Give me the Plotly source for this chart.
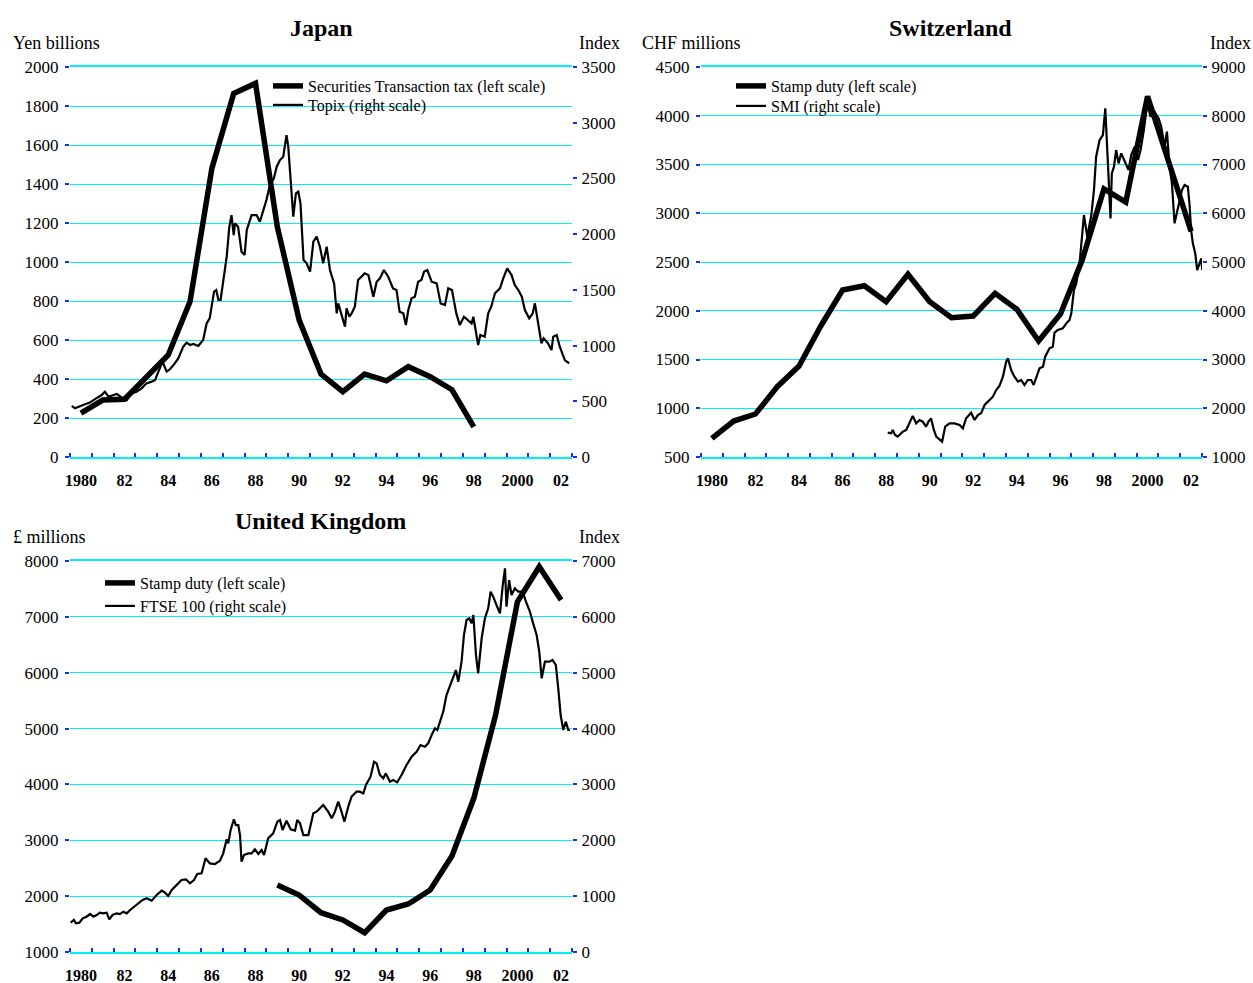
import plotly.graph_objects as go

W, H = 1253, 983
FONT = "Liberation Serif"
CYAN = "#00f0f8"
BLUE = "#1030ff"

# ---------------- data ----------------
# Japan: securities transaction tax (yen billions, yearly) and Topix (index)
jp_tax_years = list(range(1980, 1999))
jp_tax = [225, 292, 296, 412, 523, 797, 1480, 1864, 1916, 1180, 702, 425,
          335, 425, 391, 463, 412, 345, 155]

topix_t = [1979.58, 1979.73, 1980.1, 1980.4, 1980.7, 1980.95, 1981.1, 1981.26,
           1981.5, 1981.64, 1981.87, 1982.1, 1982.32, 1982.55, 1982.78, 1983.0,
           1983.24, 1983.4, 1983.55, 1983.74, 1983.93, 1984.08, 1984.3, 1984.46,
           1984.69, 1984.84, 1985.0, 1985.15, 1985.38, 1985.6, 1985.76, 1985.9,
           1986.1, 1986.2, 1986.3, 1986.4, 1986.55, 1986.68, 1986.8, 1986.9,
           1987.0, 1987.06, 1987.2, 1987.36, 1987.5, 1987.6, 1987.82, 1988.05,
           1988.2, 1988.32, 1988.5, 1988.66, 1988.84, 1988.97, 1989.12, 1989.27,
           1989.42, 1989.5, 1989.6, 1989.73, 1989.85, 1989.96, 1990.06, 1990.2,
           1990.34, 1990.5, 1990.65, 1990.8, 1990.95, 1991.1, 1991.26, 1991.41,
           1991.6, 1991.72, 1991.79, 1991.95, 1992.1, 1992.17, 1992.3, 1992.4,
           1992.55, 1992.7, 1992.86, 1993.0, 1993.17, 1993.4, 1993.55, 1993.7,
           1993.88, 1994.08, 1994.3, 1994.46, 1994.6, 1994.77, 1994.89, 1995.0,
           1995.15, 1995.3, 1995.45, 1995.6, 1995.72, 1995.87, 1996.07, 1996.3,
           1996.48, 1996.68, 1996.83, 1997.0, 1997.2, 1997.36, 1997.55, 1997.75,
           1997.9, 1997.98, 1998.1, 1998.2, 1998.3, 1998.5, 1998.66, 1998.8,
           1998.97, 1999.2, 1999.35, 1999.53, 1999.73, 1999.88, 2000.04, 2000.2,
           2000.34, 2000.54, 2000.7, 2000.8, 2000.95, 2001.1, 2001.2, 2001.4,
           2001.56, 2001.64, 2001.8, 2001.94, 2002.17, 2002.37]
topix_v = [458, 437, 467, 488, 526, 556, 586, 541,
           556, 565, 535, 511, 571, 586, 616, 661,
           676, 691, 766, 855, 766, 787, 840, 885,
           990, 1026, 1005, 1014, 996, 1050, 1199, 1244,
           1484, 1498, 1409, 1409, 1618, 1798, 2067, 2171,
           1992, 2097, 2067, 1842, 1813, 2037, 2171, 2171,
           2112, 2186, 2306, 2441, 2500, 2605, 2665, 2695,
           2889, 2785, 2515, 2157, 2366, 2381, 2276, 1768,
           1738, 1663, 1932, 1977, 1887, 1738, 1887, 1678,
           1558, 1289, 1379, 1259, 1169, 1334, 1259, 1289,
           1349, 1588, 1618, 1648, 1633, 1439, 1573, 1603,
           1678, 1618, 1513, 1498, 1304, 1289, 1184, 1319,
           1424, 1439, 1573, 1588, 1663, 1678, 1573, 1558,
           1379, 1364, 1513, 1498, 1289, 1184, 1259, 1229,
           1199, 1259, 1110, 1005, 1095, 1080, 1289, 1349,
           1469, 1513, 1603, 1693, 1633, 1543, 1498, 1439,
           1319, 1244, 1289, 1379, 1199, 1020, 1065, 1020,
           960, 1080, 1095, 990, 870, 840]

# Switzerland: stamp duty (CHF millions, yearly) and SMI (index)
ch_duty_years = list(range(1980, 2003))
ch_duty = [691, 869, 941, 1221, 1433, 1844, 2213, 2257, 2093, 2374, 2093, 1929,
           1946, 2179, 2015, 1690, 1967, 2520, 3250, 3115, 4200, 3500, 2815]

smi_t = [1988.07, 1988.23, 1988.3, 1988.41, 1988.53, 1988.76, 1988.92, 1989.07,
         1989.22, 1989.38, 1989.53, 1989.68, 1989.83, 1989.94, 1990.06, 1990.19,
         1990.3, 1990.45, 1990.57, 1990.71, 1990.91, 1991.14, 1991.37, 1991.52,
         1991.67, 1991.9, 1992.06, 1992.21, 1992.36, 1992.52, 1992.74, 1992.9,
         1993.05, 1993.2, 1993.36, 1993.51, 1993.59, 1993.74, 1993.89, 1994.05,
         1994.2, 1994.35, 1994.5, 1994.66, 1994.77, 1994.89, 1995.04, 1995.2,
         1995.3, 1995.5, 1995.65, 1995.73, 1995.88, 1996.11, 1996.27, 1996.42,
         1996.5, 1996.62, 1996.73, 1996.88, 1996.99, 1997.08, 1997.23, 1997.42,
         1997.54, 1997.64, 1997.8, 1997.95, 1998.06, 1998.18, 1998.3, 1998.36,
         1998.46, 1998.56, 1998.67, 1998.79, 1998.95, 1999.13, 1999.25, 1999.41,
         1999.56, 1999.68, 1999.83, 1999.99, 2000.14, 2000.32, 2000.51, 2000.63,
         2000.78, 2000.89, 2001.01, 2001.12, 2001.24, 2001.4, 2001.58, 2001.7,
         2001.85, 2001.93, 2002.0, 2002.08, 2002.19, 2002.28, 2002.39, 2002.47,
         2002.51]
smi_v = [1499, 1485, 1554, 1451, 1417, 1520, 1554, 1690,
         1841, 1690, 1759, 1725, 1622, 1725, 1793, 1554,
         1417, 1362, 1315, 1622, 1690, 1690, 1656, 1588,
         1793, 1909, 1759, 1861, 1896, 2067, 2155, 2237,
         2374, 2456, 2648, 2955, 3024, 2784, 2648, 2545,
         2579, 2477, 2579, 2579, 2477, 2648, 2819, 2853,
         3058, 3229, 3263, 3550, 3605, 3639, 3742, 3810,
         3947, 4425, 4562, 4972, 5519, 5964, 5519, 5964,
         6476, 7160, 7502, 7605, 8152, 7160, 5895, 6818,
         6955, 7297, 7023, 7228, 7058, 6887, 7194, 7365,
         7092, 7297, 7707, 8254, 7981, 8083, 7946, 7775,
         7365, 7673, 6955, 6613, 5793, 6135, 6476, 6579,
         6545, 6169, 5656, 5383, 5177, 4835, 4972, 5075,
         4835]

# United Kingdom: stamp duty (GBP millions, yearly) and FTSE 100 (index)
uk_duty_years = list(range(1989, 2003))
uk_duty = [2199, 2020, 1704, 1573, 1346, 1752, 1859, 2110, 2720, 3751, 5243,
           7271, 7898, 7301]

ftse_t = [1979.53, 1979.68, 1979.77, 1979.93, 1980.08, 1980.26, 1980.42, 1980.57,
          1980.72, 1980.87, 1981.03, 1981.18, 1981.3, 1981.45, 1981.64, 1981.79,
          1981.94, 1982.1, 1982.25, 1982.43, 1982.63, 1982.83, 1983.01, 1983.24,
          1983.47, 1983.7, 1983.85, 1984.0, 1984.16, 1984.39, 1984.61, 1984.81,
          1985.0, 1985.18, 1985.33, 1985.53, 1985.71, 1985.91, 1986.14, 1986.37,
          1986.52, 1986.68, 1986.75, 1986.86, 1987.01, 1987.1, 1987.21, 1987.29,
          1987.36, 1987.47, 1987.67, 1987.82, 1987.97, 1988.13, 1988.28, 1988.39,
          1988.58, 1988.81, 1989.0, 1989.12, 1989.24, 1989.42, 1989.61, 1989.81,
          1989.91, 1990.04, 1990.19, 1990.42, 1990.65, 1990.8, 1991.1, 1991.33,
          1991.49, 1991.64, 1991.79, 1991.94, 1992.07, 1992.25, 1992.4, 1992.63,
          1992.78, 1992.94, 1993.06, 1993.27, 1993.43, 1993.55, 1993.7, 1993.85,
          1993.97, 1994.16, 1994.31, 1994.49, 1994.69, 1994.92, 1995.15, 1995.38,
          1995.56, 1995.76, 1995.91, 1996.07, 1996.22, 1996.33, 1996.48, 1996.6,
          1996.75, 1996.91, 1997.03, 1997.18, 1997.29, 1997.44, 1997.55, 1997.67,
          1997.79, 1997.9, 1997.98, 1998.1, 1998.2, 1998.36, 1998.51, 1998.66,
          1998.77, 1998.89, 1999.04, 1999.2, 1999.32, 1999.43, 1999.5, 1999.62,
          1999.73, 1999.88, 2000.04, 2000.24, 2000.39, 2000.57, 2000.72, 2000.88,
          2001.0, 2001.11, 2001.26, 2001.46, 2001.61, 2001.76, 2001.87, 2001.98,
          2002.1, 2002.22, 2002.33, 2002.4]
ftse_v = [525, 573, 513, 525, 603, 632, 680, 632,
          662, 704, 692, 704, 585, 662, 692, 680,
          722, 692, 752, 812, 871, 931, 961, 919,
          1020, 1098, 1062, 1002, 1110, 1199, 1289, 1301,
          1229, 1289, 1396, 1408, 1677, 1587, 1575, 1635,
          1766, 2017, 1945, 2184, 2375, 2273, 2273, 2094,
          1617, 1736, 1766, 1766, 1838, 1754, 1826, 1736,
          2035, 2124, 2333, 2363, 2184, 2351, 2196, 2172,
          2363, 2303, 2094, 2094, 2482, 2512, 2631, 2512,
          2393, 2512, 2691, 2512, 2333, 2602, 2781, 2870,
          2870, 2840, 2990, 3139, 3407, 3377, 3168, 3109,
          3198, 3049, 3079, 3037, 3168, 3347, 3497, 3586,
          3705, 3676, 3735, 3884, 4004, 3974, 4153, 4302,
          4601, 4780, 4899, 5048, 4839, 5197, 5675, 5943,
          5973, 5884, 6033, 5317, 4988, 5615, 5973, 6152,
          6450, 6361, 6212, 6063, 6540, 6868, 6182, 6659,
          6391, 6510, 6450, 6450, 6271, 6093, 5884, 5675,
          5376, 4899, 5197, 5197, 5227, 5138, 4720, 4243,
          3974, 4123, 3974, 3974]

label_years = list(range(1980, 2003, 2))
label_text = ["1980", "82", "84", "86", "88", "90", "92", "94", "96", "98",
              "2000", "02"]


def px(x):
    return x / W


def py(y):
    return 1 - y / H


fig = go.Figure()

thick = dict(color="black", width=5.5)
thin = dict(color="black", width=2.2)

fig.add_trace(go.Scatter(x=jp_tax_years, y=jp_tax, mode="lines", line=thick,
                         name="Securities Transaction tax (left scale)",
                         xaxis="x", yaxis="y", legend="legend"))
fig.add_trace(go.Scatter(x=topix_t, y=topix_v, mode="lines", line=thin,
                         name="Topix (right scale)",
                         xaxis="x", yaxis="y2", legend="legend4"))
fig.add_trace(go.Scatter(x=ch_duty_years, y=ch_duty, mode="lines", line=thick,
                         name="Stamp duty (left scale)",
                         xaxis="x2", yaxis="y3", legend="legend2"))
fig.add_trace(go.Scatter(x=smi_t, y=smi_v, mode="lines", line=thin,
                         name="SMI (right scale)",
                         xaxis="x2", yaxis="y4", legend="legend5"))
fig.add_trace(go.Scatter(x=uk_duty_years, y=uk_duty, mode="lines", line=thick,
                         name="Stamp duty (left scale)",
                         xaxis="x3", yaxis="y5", legend="legend3"))
fig.add_trace(go.Scatter(x=ftse_t, y=ftse_v, mode="lines", line=thin,
                         name="FTSE 100 (right scale)",
                         xaxis="x3", yaxis="y6", legend="legend6"))


def x_axis(x0, x1, anchor):
    return dict(
        domain=[px(x0), px(x1)], anchor=anchor, range=[1979.5, 2002.5],
        tickmode="array", tickvals=label_years,
        ticktext=["<b>%s</b>" % t for t in label_text],
        ticks="", showgrid=False, zeroline=False,
        showline=True, mirror=True, linecolor=CYAN, linewidth=2,
        tickfont=dict(family=FONT, size=16, color="black"),
        ticklabelstandoff=8, automargin=False,
        minor=dict(tickvals=[y + 0.5 for y in range(1979, 2003)],
                   ticks="inside", ticklen=4, tickwidth=2, tickcolor=BLUE,
                   showgrid=False),
        fixedrange=True,
    )


def y_left(y0, y1, anchor, rng, step):
    return dict(
        domain=[py(y1), py(y0)], anchor=anchor, range=rng, dtick=step,
        tick0=rng[0], ticks="outside", ticklen=4, tickwidth=2, tickcolor=BLUE,
        showgrid=True, gridcolor=CYAN, gridwidth=1, zeroline=False,
        showline=False, tickfont=dict(family=FONT, size=17, color="black"),
        ticklabelstandoff=3, automargin=False, fixedrange=True,
    )


def y_right(over, anchor, rng, step):
    return dict(
        overlaying=over, side="right", anchor=anchor, range=rng, dtick=step,
        tick0=rng[0], ticks="outside", ticklen=4, tickwidth=2, tickcolor=BLUE,
        showgrid=False, zeroline=False, showline=False,
        tickfont=dict(family=FONT, size=17, color="black"),
        ticklabelstandoff=1, automargin=False, fixedrange=True,
    )


def legend_at(x, y):
    # one entry per legend, centred vertically on the given row
    return dict(x=px(x), y=py(y), xanchor="left", yanchor="middle",
                bgcolor="rgba(0,0,0,0)", itemwidth=30, tracegroupgap=0,
                font=dict(family=FONT, size=16, color="black"))


annotations = []


def text(s, x, y, size=18, anchor="left"):
    annotations.append(dict(text=s, x=px(x), y=py(y), xref="paper",
                            yref="paper", xanchor=anchor, yanchor="middle",
                            showarrow=False,
                            font=dict(family=FONT, size=size, color="black")))


text("<b>Japan</b>", 321, 28, size=24, anchor="center")
text("Yen billions", 11, 43)
text("Index", 622, 43, anchor="right")
text("<b>Switzerland</b>", 950, 28, size=24, anchor="center")
text("CHF millions", 640, 43)
text("Index", 1253, 43, anchor="right")
text("<b>United Kingdom</b>", 320, 521, size=24, anchor="center")
text("£ millions", 11, 537)
text("Index", 622, 537, anchor="right")

fig.update_layout(
    width=W, height=H,
    margin=dict(l=0, r=0, t=0, b=0, autoexpand=False),
    paper_bgcolor="white", plot_bgcolor="white",
    font=dict(family=FONT, color="black"),
    xaxis=x_axis(70, 572, "y"),
    yaxis=y_left(67, 457, "x", [0, 2000], 200),
    yaxis2=y_right("y", "x", [0, 3500], 500),
    xaxis2=x_axis(701, 1202, "y3"),
    yaxis3=y_left(67, 457, "x2", [500, 4500], 500),
    yaxis4=y_right("y3", "x2", [1000, 9000], 1000),
    xaxis3=x_axis(70, 572, "y5"),
    yaxis5=y_left(561, 952, "x3", [1000, 8000], 1000),
    yaxis6=y_right("y5", "x3", [0, 7000], 1000),
    legend=legend_at(268, 86),
    legend4=legend_at(268, 105),
    legend2=legend_at(731, 86),
    legend5=legend_at(731, 106),
    legend3=legend_at(100, 583),
    legend6=legend_at(100, 606),
    annotations=annotations,
    showlegend=True,
)

fig.write_html(
    "out.html",
    config={"displayModeBar": False},
    post_script=("document.body.style.margin='0';"
                 "var d=document.getElementById('{plot_id}');"
                 "d.style.position='fixed';d.style.left='0px';"
                 "d.style.top='0px';"),
)
